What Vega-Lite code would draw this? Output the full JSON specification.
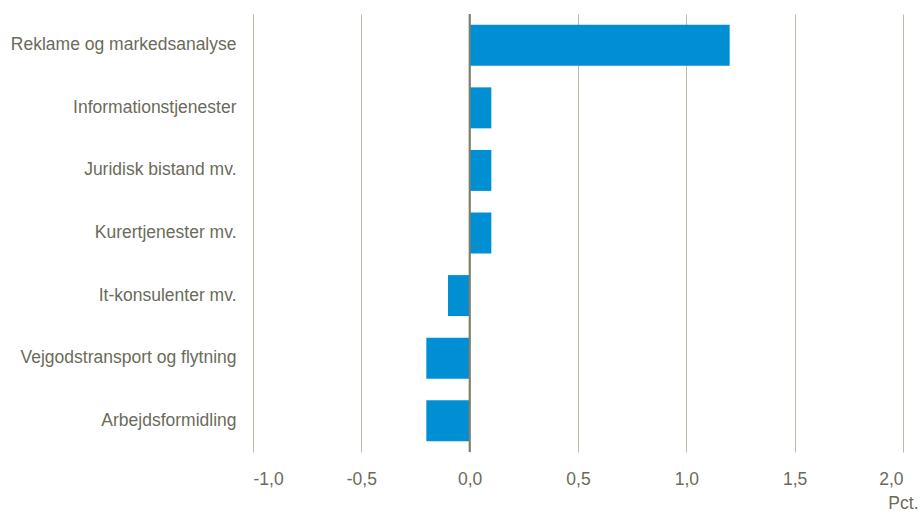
{
  "$schema": "https://vega.github.io/schema/vega-lite/v6.json",
  "width": 650,
  "height": 438,
  "autosize": "none",
  "padding": {"left": 253, "top": 14, "right": 17, "bottom": 61},
  "background": "white",
  "config": {
    "locale": {"number": {"decimal": ",", "thousands": ".", "grouping": [3], "currency": ["", " kr"], "minus": "-"}},
    "view": {"stroke": null},
    "font": "Liberation Sans"
  },
  "data": {
    "values": [
      {"kategori": "Reklame og markedsanalyse", "pct": 1.2},
      {"kategori": "Informationstjenester", "pct": 0.1},
      {"kategori": "Juridisk bistand mv.", "pct": 0.1},
      {"kategori": "Kurertjenester mv.", "pct": 0.1},
      {"kategori": "It-konsulenter mv.", "pct": -0.1},
      {"kategori": "Vejgodstransport og flytning", "pct": -0.2},
      {"kategori": "Arbejdsformidling", "pct": -0.2}
    ]
  },
  "layer": [
    {
      "mark": {"type": "bar", "color": "#008fd3"},
      "encoding": {
        "y": {
          "field": "kategori", "type": "nominal", "sort": null,
          "scale": {"paddingInner": 0.345, "paddingOuter": 0.1725},
          "axis": {"title": null, "domain": false, "ticks": false, "labelFontSize": 17.5, "labelColor": "#6b6b5b", "labelPadding": 17, "labelLimit": 400, "labelFont": "Liberation Sans"}
        },
        "x": {
          "field": "pct", "type": "quantitative",
          "scale": {"domain": [-1, 2], "nice": false},
          "axis": {
            "values": [-1, -0.5, 0, 0.5, 1, 1.5, 2], "format": ".1f",
            "title": "Pct.", "titleFontWeight": "normal", "titleFontSize": 17.5, "titleColor": "#6b6b5b",
            "titleFont": "Liberation Sans",
            "titleAnchor": "end", "titleAlign": "right", "titleX": 665, "titleY": 60, "titleBaseline": "bottom",
            "domain": false, "ticks": false, "grid": true, "gridColor": "#bdbdae", "gridWidth": 1,
            "labelFontSize": 17.5, "labelColor": "#6b6b5b", "labelPadding": 18, "labelFont": "Liberation Sans"
          }
        }
      }
    },
    {
      "data": {"values": [{"x": 0}]},
      "mark": {"type": "rule", "color": "#7d7d6d", "strokeWidth": 2},
      "encoding": {"x": {"field": "x", "type": "quantitative"}}
    }
  ]
}
